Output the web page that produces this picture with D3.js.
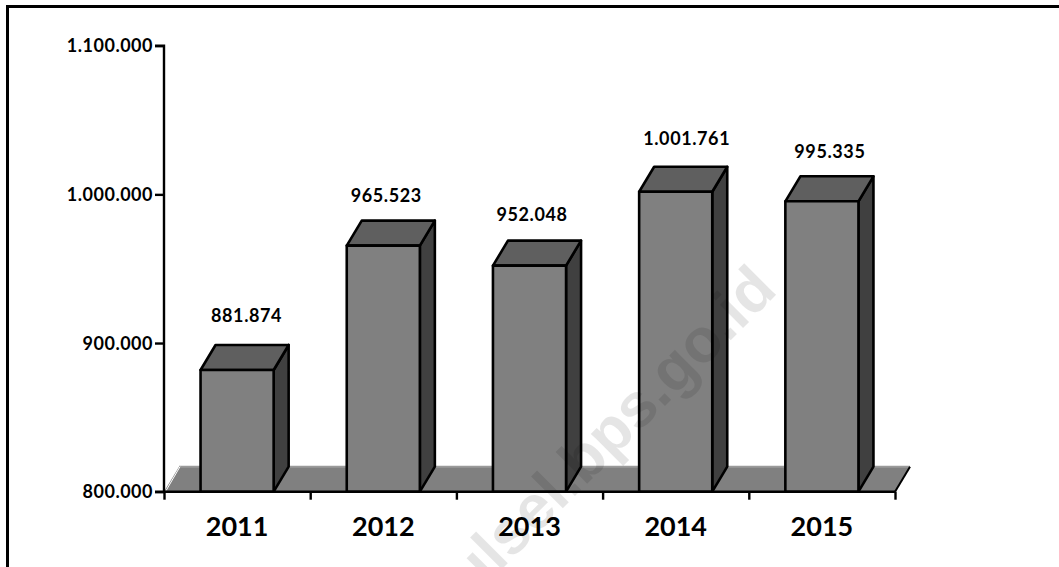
<!DOCTYPE html>
<html>
<head>
<meta charset="utf-8">
<style>
html,body{margin:0;padding:0;background:#fff}
svg{display:block}
text{font-family:Lato,"Open Sans",sans-serif;font-weight:700;fill:#000}
</style>
<script src="https://cdn.jsdelivr.net/npm/d3@7/dist/d3.min.js"></script>
</head>
<body>
<script>
// Annual totals, drawn as extruded columns on a shallow floor
const years = ["2011","2012","2013","2014","2015"];
const totals = [881874,965523,952048,1001761,995335];
const yTicks = [800000,900000,1000000,1100000];
const watermark = "sulsel.bps.go.id";

const W = 1059, H = 567;
const plotL = 164, plotR = 895, plotT = 45.7, plotB = 491.7;
const depthX = 15, depthY = 25;
// Value labels sit by hand around each column: [dx, dy] from the column's top centre
const labelNudge = [[9.5,-54],[3,-49.5],[2.5,-51],[11,-53],[8,-49.5]];

const svg = d3.select("body").append("svg").attr("width",W).attr("height",H);

const x = d3.scaleBand().domain(years).range([plotL,plotR]).paddingInner(0.5).paddingOuter(0.25);
const y = d3.scaleLinear().domain([800000,1100000]).range([plotB,plotT]);
const dots = d3.formatLocale({decimal:",",thousands:".",grouping:[3],currency:["",""]}).format(",d");

// Outer frame: only the top and left edges are closed
svg.append("path").attr("d",`M7.5,${H} V6.5 H${W}`).attr("fill","none").attr("stroke","#000").attr("stroke-width",3);

// Floor slab
const floorG = svg.append("g");
floorG.append("path")
  .attr("d",`M${plotL},${plotB} L${plotL+depthX},${plotB-depthY} H${plotR+depthX} L${plotR},${plotB} Z`)
  .attr("fill","#808080");
floorG.append("path")
  .attr("d",`M${plotL+depthX},${plotB-depthY} H${plotR+depthX}`)
  .attr("stroke","#9a9a9a").attr("stroke-width",2).attr("fill","none");
floorG.append("path")
  .attr("d",`M${plotL+2},${plotB-1} L${plotL+depthX+1},${plotB-depthY}`)
  .attr("stroke","#fff").attr("stroke-width",1).attr("fill","none");
floorG.append("path")
  .attr("d",`M${plotR+depthX},${plotB-depthY} L${plotR},${plotB}`)
  .attr("stroke","#000").attr("stroke-width",2).attr("fill","none");

// Columns: side, top, then front face
const rows = years.map((d,i)=>({year:d,value:totals[i],i}));
const bars = svg.append("g").selectAll("g").data(rows).join("g")
  .attr("stroke","#000").attr("stroke-width",2.6).attr("stroke-linejoin","round");
bars.append("path")
  .attr("fill","#404040")
  .attr("d",d=>{const r=x(d.year)+x.bandwidth(),t=y(d.value);
    return `M${r},${t} L${r+depthX},${t-depthY} V${plotB-depthY} L${r},${plotB} Z`;});
bars.append("path")
  .attr("fill","#5f5f5f")
  .attr("d",d=>{const l=x(d.year),r=l+x.bandwidth(),t=y(d.value);
    return `M${l},${t} L${l+depthX},${t-depthY} H${r+depthX} L${r},${t} Z`;});
bars.append("rect")
  .attr("fill","#808080")
  .attr("x",d=>x(d.year)).attr("y",d=>y(d.value))
  .attr("width",x.bandwidth()).attr("height",d=>plotB-y(d.value));

// Value axis
const yAxis = svg.append("g").attr("transform",`translate(${plotL},0)`)
  .call(d3.axisLeft(y).tickValues(yTicks).tickFormat(dots).tickSize(9).tickPadding(2));
yAxis.selectAll("path,line").attr("stroke","#000").attr("stroke-width",2.4);
yAxis.select(".domain").attr("d",`M-9,${plotT}H0V${plotB}H-9`);
yAxis.selectAll("text").style("font-size","18px").style("letter-spacing","0.5px").attr("dy","0.34em");

// Category axis: ticks fall on the band edges, labels in the band centres
const edges = d3.scalePoint().domain(d3.range(years.length+1)).range([plotL,plotR]);
const edgeAxis = svg.append("g").attr("transform",`translate(0,${plotB})`)
  .call(d3.axisBottom(edges).tickSize(8).tickFormat(""));
edgeAxis.selectAll("path,line").attr("stroke","#000").attr("stroke-width",2.4);
edgeAxis.select(".domain").attr("d",`M${plotL},0H${plotR}`);

const labelAxis = svg.append("g").attr("transform",`translate(0,${plotB})`)
  .call(d3.axisBottom(x).tickSize(0).tickPadding(25));
labelAxis.select(".domain").remove();
labelAxis.selectAll("text").style("font-size","27px").attr("dy","0.71em");

// Value labels above each column
svg.append("g").selectAll("text").data(rows).join("text")
  .attr("text-anchor","middle")
  .attr("x",d=>x(d.year)+x.bandwidth()/2+labelNudge[d.i][0])
  .attr("y",d=>y(d.value)+labelNudge[d.i][1])
  .attr("dy","0.35em")
  .style("font-size","18px")
  .style("letter-spacing","0.6px")
  .text(d=>dots(d.value));

// Translucent site mark laid diagonally over the whole chart
svg.append("text")
  .attr("transform","translate(779,292) rotate(-45)")
  .attr("text-anchor","end")
  .style("font-family","'Liberation Sans',sans-serif")
  .style("font-weight",700)
  .style("font-size","62px")
  .style("fill","#000")
  .style("fill-opacity",0.1)
  .text(watermark);
</script>
</body>
</html>
